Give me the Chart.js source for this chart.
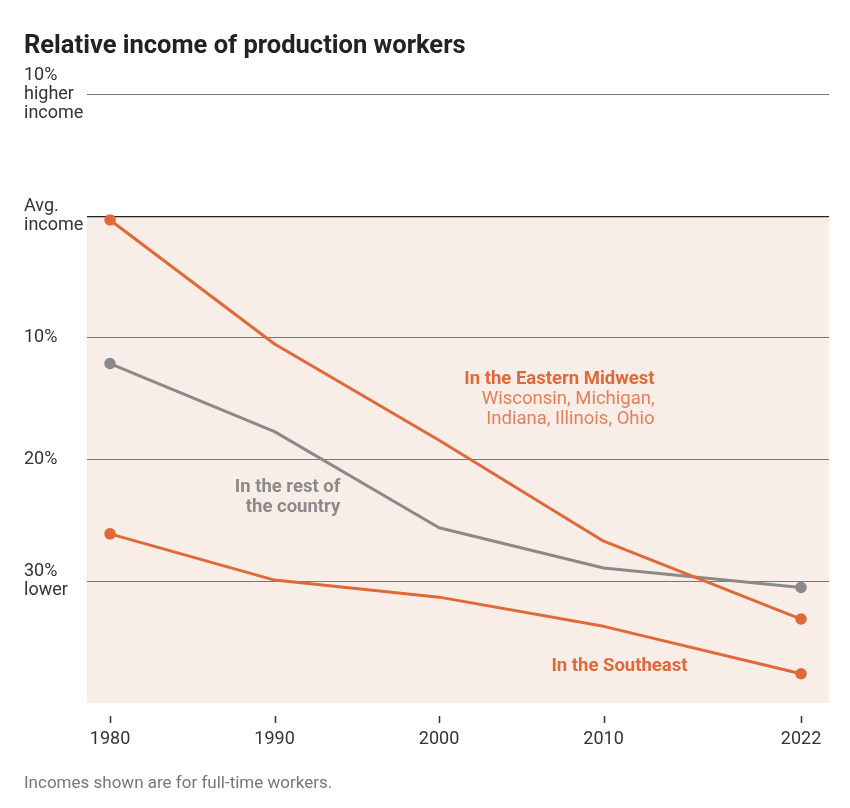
<!DOCTYPE html>
<html>
<head>
<meta charset="utf-8">
<script src="https://cdn.jsdelivr.net/npm/chart.js@4"></script>
<style>
  html, body { margin: 0; padding: 0; background: #fff; }
  #wrap { width: 850px; height: 808px; position: relative; }
</style>
</head>
<body>
<div id="wrap"><canvas id="c"></canvas></div>
<script>
// ---- Data ----
const years = [1980, 1990, 2000, 2010, 2022];
const easternMidwest = [-0.3, -10.5, -18.4, -26.7, -33.1];
const southeast = [-26.1, -29.9, -31.3, -33.7, -37.6];
const restOfCountry = [-12.1, -17.7, -25.6, -28.9, -30.5];
const yTickValues = [-30, -20, -10, 0, 10];
const yTickLabels = [['30%', 'lower'], ['20%'], ['10%'], ['Avg.', 'income'], ['10%', 'higher', 'income']];
const xTickValues = [1980, 1990, 2000, 2010, 2022];
const xTickLabels = ['1980', '1990', '2000', '2010', '2022'];

const ORANGE = '#e0693a';
const GRAY = '#8a8a8a';
const FONT = 'Roboto, "Liberation Sans", sans-serif';

const toPts = arr => years.map((y, i) => ({ x: y, y: arr[i] }));
const endPoints = ctx => (ctx.dataIndex === 0 || ctx.dataIndex === years.length - 1) ? 5 : 0;

const bgPlugin = {
  id: 'bgShade',
  beforeDraw(chart) {
    const { ctx, chartArea } = chart;
    const y = chart.scales.y;
    const top = y.getPixelForValue(0);
    const bottom = y.getPixelForValue(y.min);
    ctx.save();
    ctx.fillStyle = '#f9ede8';
    ctx.fillRect(chartArea.left, top, chartArea.right - chartArea.left, bottom - top);
    ctx.restore();
  }
};

const tickMarks = {
  id: 'tickMarks',
  afterDraw(chart) {
    const { ctx, chartArea } = chart;
    const x = chart.scales.x;
    ctx.save();
    ctx.strokeStyle = '#333';
    ctx.lineWidth = 1.5;
    xTickValues.forEach(v => {
      const px = Math.round(x.getPixelForValue(v)) + 0.5;
      ctx.beginPath();
      ctx.moveTo(px, chartArea.bottom + 13);
      ctx.lineTo(px, chartArea.bottom + 20);
      ctx.stroke();
    });
    ctx.restore();
  }
};

const annotations = {
  id: 'annot',
  afterDatasetsDraw(chart) {
    const { ctx } = chart;
    const x = chart.scales.x, y = chart.scales.y;
    const put = (text, xv, yv, color, bold) => {
      ctx.font = (bold ? 'bold ' : '') + '18.5px ' + FONT;
      ctx.fillStyle = color;
      ctx.textAlign = 'right';
      ctx.textBaseline = 'middle';
      ctx.fillText(text, x.getPixelForValue(xv), y.getPixelForValue(yv));
    };
    put('In the Eastern Midwest', 2013.1, -13.38, ORANGE, true);
    put('Wisconsin, Michigan,', 2013.1, -15.02, '#e47f58', false);
    put('Indiana, Illinois, Ohio', 2013.1, -16.67, '#e47f58', false);
    put('In the rest of', 1994.0, -22.25, GRAY, true);
    put('the country', 1994.0, -23.89, GRAY, true);
    put('In the Southeast', 2015.1, -37.03, ORANGE, true);
  }
};

new Chart(document.getElementById('c'), {
  type: 'line',
  data: {
    datasets: [
      { label: 'In the Eastern Midwest', data: toPts(easternMidwest), borderColor: ORANGE, backgroundColor: ORANGE },
      { label: 'In the Southeast', data: toPts(southeast), borderColor: ORANGE, backgroundColor: ORANGE },
      { label: 'In the rest of the country', data: toPts(restOfCountry), borderColor: GRAY, backgroundColor: GRAY }
    ]
  },
  options: {
    responsive: true,
    maintainAspectRatio: false,
    animation: false,
    layout: { padding: { left: 24, right: 21, top: 0, bottom: 0 } },
    elements: {
      line: { borderWidth: 3, tension: 0, borderCapStyle: 'round', borderJoinStyle: 'round' },
      point: { radius: endPoints, hoverRadius: endPoints, borderColor: '#fff', borderWidth: 1.5 }
    },
    scales: {
      x: {
        type: 'linear',
        min: 1978.6,
        max: 2023.7,
        afterBuildTicks: s => { s.ticks = xTickValues.map(v => ({ value: v })); },
        afterFit: s => { s.height = 47.6; },
        grid: { display: false, drawTicks: false },
        border: { display: false },
        ticks: {
          padding: 26,
          color: '#333',
          font: { family: FONT, size: 18, lineHeight: 1.2 },
          callback: v => xTickLabels[xTickValues.indexOf(v)]
        }
      },
      y: {
        min: -40,
        max: 10,
        afterBuildTicks: s => { s.ticks = yTickValues.map(v => ({ value: v })); },
        afterFit: s => { s.width = 63; },
        grid: {
          drawTicks: false,
          color: c => c.tick && c.tick.value === 0 ? '#222' : '#777',
          lineWidth: c => c.tick && c.tick.value === 0 ? 1.3 : 1
        },
        border: { display: false },
        ticks: {
          crossAlign: 'far',
          padding: 0,
          color: '#333',
          font: { family: FONT, size: 18, lineHeight: 1.06 },
          callback: v => yTickLabels[yTickValues.indexOf(v)]
        }
      }
    },
    plugins: {
      legend: { display: false },
      tooltip: { enabled: false },
      title: {
        display: true,
        text: 'Relative income of production workers',
        align: 'start',
        color: '#222',
        font: { family: FONT, size: 25.5, weight: 'bold', lineHeight: 1.2 },
        padding: { top: 31, bottom: 33 }
      },
      subtitle: {
        display: true,
        position: 'bottom',
        text: 'Incomes shown are for full-time workers.',
        align: 'start',
        color: '#777',
        font: { family: FONT, size: 17, lineHeight: 1.2 },
        padding: { top: 23, bottom: 14 }
      }
    }
  },
  plugins: [bgPlugin, tickMarks, annotations]
});
</script>
</body>
</html>
